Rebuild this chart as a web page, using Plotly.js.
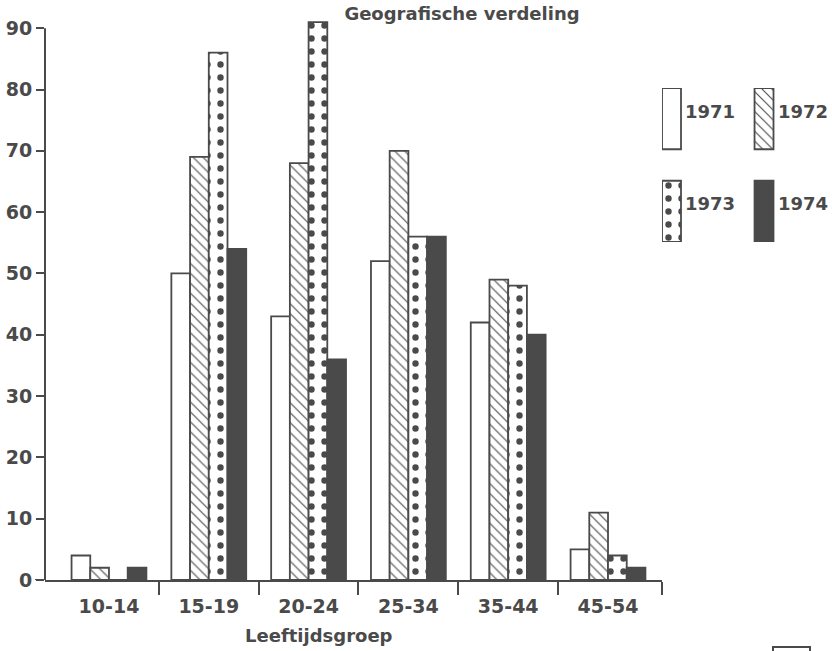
<!DOCTYPE html>
<html>
<head>
<meta charset="utf-8">
<script src="https://cdn.plot.ly/plotly-3.0.1.min.js"></script>
<style>html,body{margin:0;padding:0;background:#fff}#chart{width:832px;height:651px}</style>
</head>
<body>
<div id="chart"></div>
<script>
// ---- data ----
const categories = ['10-14', '15-19', '20-24', '25-34', '35-44', '45-54'];
const years = ['1971', '1972', '1973', '1974'];
const v1971 = [4, 50, 43, 52, 42, 5];
const v1972 = [2, 69, 68, 70, 49, 11];
const v1973 = [0, 86, 91, 56, 48, 4];
const v1974 = [2, 54, 36, 56, 40, 2];
const yTicks = [0, 10, 20, 30, 40, 50, 60, 70, 80, 90];
const titleText = 'Geografische verdeling';
const xTitleText = 'Leeftijdsgroep';

// ---- styles ----
const INK = '#4a4a4a';
const FONT = 'DejaVu Sans';
const seriesValues = [v1971, v1972, v1973, v1974];
const markers = [
  {color: '#ffffff', line: {color: INK, width: 1.8}},
  {color: '#ffffff', line: {color: INK, width: 1.8},
   pattern: {shape: '\\', fgcolor: INK, bgcolor: '#ffffff', size: 7, solidity: 0.16, fillmode: 'replace'}},
  {color: '#ffffff', line: {color: INK, width: 1.8},
   pattern: {shape: '.', fgcolor: INK, bgcolor: '#ffffff', size: 13, solidity: 0.19, fillmode: 'replace'}},
  {color: INK, line: {color: INK, width: 1.8}}
];

const PLOT_H = 561;   // px height of plotting area (y from 0 to 91.5)
const idx = categories.map((_, i) => i);
const traces = [];
years.forEach((yr, k) => {
  traces.push({
    type: 'bar', name: yr, x: idx, y: seriesValues[k],
    marker: markers[k], showlegend: false, hoverinfo: 'x+y+name',
    xaxis: 'x', yaxis: 'y'
  });
});

// legend swatches drawn as bars on a hidden side axis
const swW = 0.205, swH = 0.66;
const annotations = [];
years.forEach((yr, k) => {
  const col = k % 2, row = Math.floor(k / 2);
  traces.push({
    type: 'bar', name: yr, x: [col], y: [swH], base: [-row],
    width: [swW], offset: [-swW / 2],
    marker: markers[k], showlegend: false, hoverinfo: 'name',
    xaxis: 'x2', yaxis: 'y2'
  });
  annotations.push({
    text: yr, xref: 'x2', yref: 'y2', x: col + 0.125, y: -row + 0.41,
    xanchor: 'left', yanchor: 'middle', showarrow: false,
    font: {family: FONT, size: 18, color: INK, weight: 'bold'}
  });
});

annotations.push({
  text: xTitleText, xref: 'paper', yref: 'paper',
  x: (319 - 45) / 787, y: (580 - 635) / PLOT_H, xanchor: 'center', yanchor: 'middle',
  showarrow: false, font: {family: FONT, size: 18, color: INK, weight: 'bold'}
});

const xDom = 617 / 787;
const layout = {
  width: 832, height: 651,
  margin: {l: 45, r: 0, t: 651 - 71 - PLOT_H, b: 71, pad: 0},
  paper_bgcolor: '#ffffff', plot_bgcolor: '#ffffff',
  barmode: 'group', bargap: 0.25, bargroupgap: 0,
  title: {
    text: titleText, xref: 'container', yref: 'container',
    x: 462 / 832, y: 1 - 14 / 651, xanchor: 'center', yanchor: 'middle',
    font: {family: FONT, size: 18, color: INK, weight: 'bold'}
  },
  xaxis: {
    domain: [0, xDom], type: 'linear', range: [-0.641, 5.541],
    tickmode: 'array', tickvals: idx, ticktext: categories,
    ticks: 'outside', ticklen: 8, tickcolor: 'rgba(0,0,0,0)',
    minor: {tickmode: 'array', tickvals: [0.5, 1.5, 2.5, 3.5, 4.5, 5.541],
            ticks: 'outside', ticklen: 13, tickwidth: 2, tickcolor: INK},
    showline: true, linecolor: INK, linewidth: 2,
    showgrid: false, zeroline: false, fixedrange: true,
    tickfont: {family: FONT, size: 19, color: INK, weight: 'bold'}
  },
  yaxis: {
    domain: [0, 1], range: [0, 91.5],
    tickmode: 'array', tickvals: yTicks,
    ticks: 'outside', ticklen: 8, tickwidth: 2, tickcolor: INK,
    showline: false,
    showgrid: false, zeroline: false, fixedrange: true,
    tickfont: {family: FONT, size: 19, color: INK, weight: 'bold'}
  },
  xaxis2: {
    domain: [xDom, 1], range: [-0.103, 1.735], anchor: 'y2',
    visible: false, fixedrange: true
  },
  yaxis2: {
    domain: [(580 - 242) / PLOT_H, (580 - 88) / PLOT_H], range: [-1, 0.66], anchor: 'x2',
    visible: false, fixedrange: true
  },
  annotations: annotations,
  shapes: [
    // y axis line from 0 to 90
    {type: 'line', xref: 'paper', yref: 'y', x0: 0, x1: 0, y0: 0, y1: yTicks[yTicks.length - 1],
     line: {color: INK, width: 2}, layer: 'above'},
    // small left extension of the x axis line
    {type: 'line', xref: 'paper', yref: 'y', x0: -10 / 787, x1: 0, y0: 0, y1: 0,
     line: {color: INK, width: 2}},
    {type: 'rect', xref: 'paper', yref: 'paper',
     x0: (773 - 45) / 787, x1: (810 - 45) / 787, y0: (580 - 660) / PLOT_H, y1: (580 - 647) / PLOT_H,
     line: {color: INK, width: 2}, fillcolor: 'rgba(0,0,0,0)'}
  ]
};

Plotly.newPlot('chart', traces, layout, {displayModeBar: false, staticPlot: true});
</script>
</body>
</html>
